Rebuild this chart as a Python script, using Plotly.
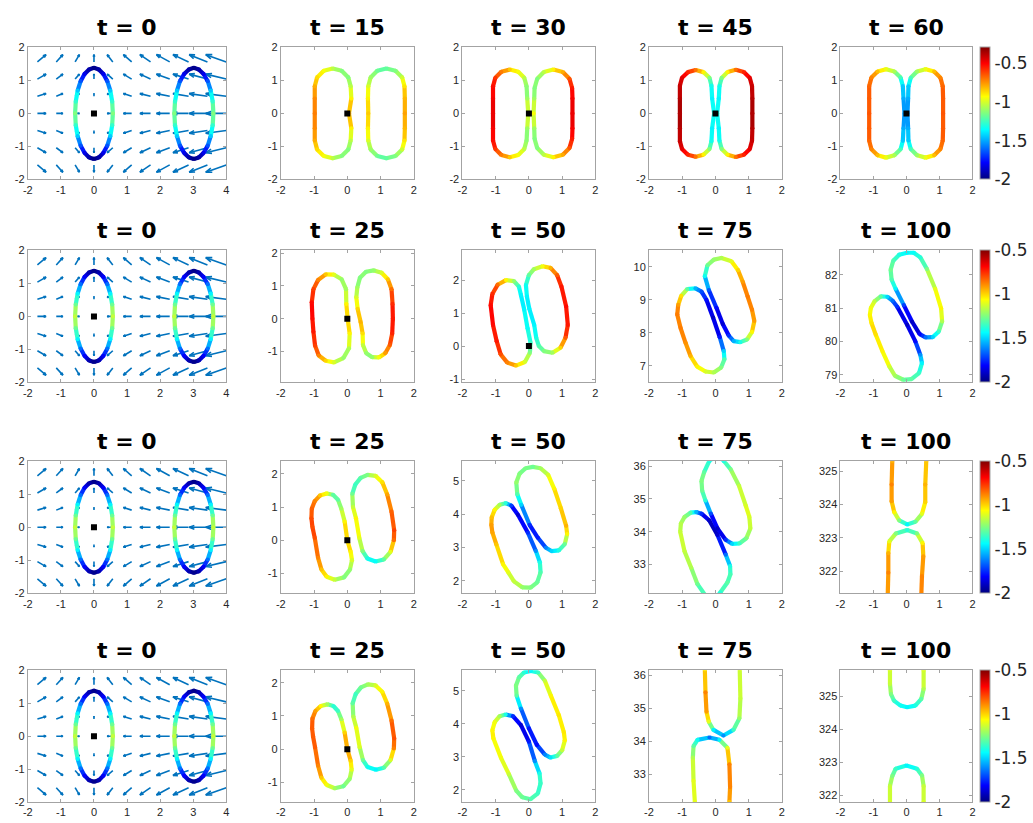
import numpy as np
import plotly.graph_objects as go
import plotly.figure_factory as ff
from plotly.colors import sample_colorscale

W, H = 1033, 823

# ---------------- data ----------------
TITLES = [
    ["t = 0", "t = 15", "t = 30", "t = 45", "t = 60"],
    ["t = 0", "t = 25", "t = 50", "t = 75", "t = 100"],
    ["t = 0", "t = 25", "t = 50", "t = 75", "t = 100"],
    ["t = 0", "t = 25", "t = 50", "t = 75", "t = 100"],
]
CLIMS = [(-2.0, -0.3), (-2.0, -0.5), (-2.0, -0.5), (-2.0, -0.5)]
CBAR_TICKS = [-2, -1.5, -1, -0.5]
CBAR_TEXT = ["-2", "-1.5", "-1", "-0.5"]
X_RANGES = [(-2, 4), (-2, 2), (-2, 2), (-2, 2), (-2, 2)]
Y_RANGES = [
    [(-2, 2), (-2, 2), (-2, 2), (-2, 2), (-2, 2)],
    [(-2, 2), (-1.94, 2.08), (-1.1, 2.9), (6.5, 10.5), (78.77, 82.73)],
    [(-2, 2), (-1.6, 2.38), (1.62, 5.59), (32.12, 36.15), (321.33, 325.3)],
    [(-2, 2), (-1.6, 2.38), (1.63, 5.62), (32.15, 36.15), (321.8, 325.79)],
]

# quiver field (t = 0 panels)
QX = [-1.71, -1.14, -0.57, 0.0, 0.57, 1.14, 1.71, 2.29, 2.86, 3.43, 4.0]
QY = [-1.56, -1.04, -0.52, 0.0, 0.52, 1.04, 1.56]
QU = [0.26, 0.2, 0.13, 0.0, -0.17, -0.25, -0.32, -0.4, -0.47, -0.55, -0.62]
QV = [-0.22, -0.15, -0.08, 0.0, 0.08, 0.15, 0.22]

# squares at the origin
SQUARE_PANELS = [(0, 0), (0, 1), (0, 2), (0, 3), (0, 4), (1, 0), (1, 1), (1, 2),
                 (2, 0), (2, 1), (3, 0), (3, 1)]

# curves: (x, y, value)
ELLIPSE_L = [(0.57, 0.0, -1.15), (0.551, 0.357, -1.28), (0.494, 0.69, -1.45), (0.403, 0.976, -1.65),
             (0.285, 1.195, -1.82), (0.148, 1.333, -1.93), (0.0, 1.38, -1.98), (-0.148, 1.333, -1.93),
             (-0.285, 1.195, -1.82), (-0.403, 0.976, -1.65), (-0.494, 0.69, -1.45), (-0.551, 0.357, -1.28),
             (-0.57, 0.0, -1.15), (-0.551, -0.357, -1.28), (-0.494, -0.69, -1.45), (-0.403, -0.976, -1.65),
             (-0.285, -1.195, -1.82), (-0.148, -1.333, -1.93), (0.0, -1.38, -1.98), (0.148, -1.333, -1.93),
             (0.285, -1.195, -1.82), (0.403, -0.976, -1.65), (0.494, -0.69, -1.45), (0.551, -0.357, -1.28)]
ELLIPSE_R = [(3.61, 0.0, -1.15), (3.59, 0.357, -1.28), (3.53, 0.69, -1.45), (3.44, 0.976, -1.65),
             (3.315, 1.195, -1.82), (3.17, 1.333, -1.93), (3.02, 1.38, -1.98), (2.87, 1.333, -1.93),
             (2.725, 1.195, -1.82), (2.6, 0.976, -1.65), (2.51, 0.69, -1.45), (2.45, 0.357, -1.28),
             (2.43, 0.0, -1.15), (2.45, -0.357, -1.28), (2.51, -0.69, -1.45), (2.6, -0.976, -1.65),
             (2.725, -1.195, -1.82), (2.87, -1.333, -1.93), (3.02, -1.38, -1.98), (3.17, -1.333, -1.93),
             (3.315, -1.195, -1.82), (3.44, -0.976, -1.65), (3.53, -0.69, -1.45), (3.59, -0.357, -1.28)]

R1C2_A = [(-0.98, 0.0, -0.72), (-0.98, 0.45, -0.74), (-0.98, 0.82, -0.8), (-0.91, 1.09, -0.88), (-0.71, 1.29, -0.95),
          (-0.44, 1.36, -1.05), (-0.17, 1.29, -1.15), (0.03, 1.09, -1.15), (0.1, 0.82, -1.05), (0.12, 0.45, -0.92),
          (0.05, 0.0, -0.8), (0.12, -0.45, -0.92), (0.1, -0.82, -1.05), (0.03, -1.09, -1.15), (-0.17, -1.29, -1.15),
          (-0.44, -1.36, -1.05), (-0.71, -1.29, -0.95), (-0.91, -1.09, -0.88), (-0.98, -0.82, -0.8), (-0.98, -0.45, -0.74)]
R1C2_B = [(0.63, 0.0, -0.85), (0.62, 0.45, -0.92), (0.63, 0.82, -1.0), (0.70, 1.09, -1.1), (0.90, 1.29, -1.18),
          (1.175, 1.36, -1.2), (1.45, 1.29, -1.15), (1.65, 1.09, -1.02), (1.72, 0.82, -0.9), (1.73, 0.45, -0.82),
          (1.73, 0.0, -0.78), (1.73, -0.45, -0.82), (1.72, -0.82, -0.9), (1.65, -1.09, -1.02), (1.45, -1.29, -1.15),
          (1.175, -1.36, -1.2), (0.90, -1.29, -1.18), (0.70, -1.09, -1.1), (0.63, -0.82, -1.0), (0.62, -0.45, -0.92)]
R1C3_A = [(-1.08, 0.0, -0.48), (-1.08, 0.45, -0.5), (-1.08, 0.82, -0.53), (-1.01, 1.08, -0.6), (-0.83, 1.26, -0.72),
          (-0.575, 1.33, -0.85), (-0.32, 1.26, -0.95), (-0.14, 1.08, -1.05), (-0.07, 0.82, -1.13), (-0.05, 0.45, -1.1),
          (-0.02, 0.0, -0.92), (-0.05, -0.45, -1.1), (-0.07, -0.82, -1.13), (-0.14, -1.08, -1.05), (-0.32, -1.26, -0.95),
          (-0.575, -1.33, -0.85), (-0.83, -1.26, -0.72), (-1.01, -1.08, -0.6), (-1.08, -0.82, -0.53), (-1.08, -0.45, -0.5)]
R1C3_B = [(0.14, 0.0, -0.95), (0.16, 0.45, -1.1), (0.17, 0.77, -1.15), (0.25, 1.05, -1.15), (0.45, 1.255, -1.05),
          (0.735, 1.33, -0.92), (1.02, 1.255, -0.8), (1.22, 1.05, -0.65), (1.3, 0.77, -0.55), (1.31, 0.45, -0.5),
          (1.31, 0.0, -0.48), (1.31, -0.45, -0.5), (1.3, -0.77, -0.55), (1.22, -1.05, -0.65), (1.02, -1.255, -0.8),
          (0.735, -1.33, -0.92), (0.45, -1.255, -1.05), (0.25, -1.05, -1.15), (0.17, -0.77, -1.15), (0.16, -0.45, -1.1)]
R1C4_A = [(-1.07, 0.0, -0.38), (-1.07, 0.45, -0.39), (-1.07, 0.84, -0.42), (-1.006, 1.08, -0.47), (-0.83, 1.25, -0.57),
          (-0.595, 1.315, -0.7), (-0.36, 1.25, -0.92), (-0.18, 1.08, -1.15), (-0.12, 0.84, -1.33), (-0.1, 0.45, -1.38),
          (-0.04, 0.0, -1.3), (-0.1, -0.45, -1.38), (-0.12, -0.84, -1.33), (-0.18, -1.08, -1.15), (-0.36, -1.25, -0.92),
          (-0.595, -1.315, -0.7), (-0.83, -1.25, -0.57), (-1.006, -1.08, -0.47), (-1.07, -0.84, -0.42), (-1.07, -0.45, -0.39)]
R1C4_B = [(0.05, 0.0, -1.3), (0.1, 0.45, -1.38), (0.12, 0.83, -1.33), (0.186, 1.075, -1.15), (0.365, 1.254, -0.92),
          (0.61, 1.32, -0.7), (0.855, 1.254, -0.57), (1.034, 1.075, -0.47), (1.1, 0.83, -0.42), (1.11, 0.45, -0.39),
          (1.11, 0.0, -0.38), (1.11, -0.45, -0.39), (1.1, -0.83, -0.42), (1.034, -1.075, -0.47), (0.855, -1.254, -0.57),
          (0.61, -1.32, -0.7), (0.365, -1.254, -0.92), (0.186, -1.075, -1.15), (0.12, -0.83, -1.33), (0.1, -0.45, -1.38)]
R1C5_A = [(-1.13, 0.0, -0.65), (-1.13, 0.45, -0.66), (-1.13, 0.83, -0.68), (-1.062, 1.085, -0.73), (-0.875, 1.27, -0.83),
          (-0.62, 1.34, -0.97), (-0.365, 1.27, -1.08), (-0.178, 1.085, -1.25), (-0.11, 0.83, -1.45), (-0.09, 0.45, -1.5),
          (-0.06, 0.0, -1.53), (-0.09, -0.45, -1.5), (-0.11, -0.83, -1.45), (-0.178, -1.085, -1.25), (-0.365, -1.27, -1.08),
          (-0.62, -1.34, -0.97), (-0.875, -1.27, -0.83), (-1.062, -1.085, -0.73), (-1.13, -0.83, -0.68), (-1.13, -0.45, -0.66)]
R1C5_B = [(0.03, 0.0, -1.53), (0.05, 0.45, -1.5), (0.06, 0.82, -1.45), (0.13, 1.08, -1.25), (0.32, 1.27, -1.1),
          (0.58, 1.34, -0.97), (0.84, 1.27, -0.83), (1.03, 1.08, -0.73), (1.1, 0.82, -0.68), (1.11, 0.45, -0.66),
          (1.11, 0.0, -0.65), (1.11, -0.45, -0.66), (1.1, -0.82, -0.68), (1.03, -1.08, -0.73), (0.84, -1.27, -0.83),
          (0.58, -1.34, -0.97), (0.32, -1.27, -1.1), (0.13, -1.08, -1.25), (0.06, -0.82, -1.45), (0.05, -0.45, -1.5)]

R2C2_A = [(-1.05, 0.0, -0.7), (-1.07, 0.5, -0.7), (-1.02, 0.9, -0.78), (-0.88, 1.18, -0.88), (-0.65, 1.35, -0.98),
          (-0.4, 1.34, -1.1), (-0.17, 1.2, -1.22), (-0.04, 0.9, -1.2), (-0.03, 0.45, -1.05), (0.01, 0.0, -0.95),
          (0.07, -0.45, -1.05), (0.05, -0.9, -1.18), (-0.12, -1.2, -1.22), (-0.4, -1.33, -1.12), (-0.65, -1.28, -1.0),
          (-0.86, -1.12, -0.88), (-0.97, -0.82, -0.78), (-1.02, -0.4, -0.72)]
R2C2_B = [(0.3, 0.95, -1.2), (0.38, 1.25, -1.25), (0.56, 1.43, -1.25), (0.8, 1.47, -1.22), (1.03, 1.4, -1.12),
          (1.22, 1.2, -0.98), (1.33, 0.9, -0.85), (1.36, 0.45, -0.75), (1.37, 0.0, -0.72), (1.35, -0.45, -0.74),
          (1.28, -0.8, -0.82), (1.14, -1.05, -0.92), (0.95, -1.18, -1.08), (0.75, -1.17, -1.22), (0.57, -1.05, -1.22),
          (0.47, -0.8, -1.15), (0.46, -0.45, -1.02), (0.4, -0.1, -0.95), (0.31, 0.3, -1.0), (0.27, 0.65, -1.12)]
R2C3_A = [(-1.08, 0.64, -0.7), (-1.15, 1.24, -0.7), (-1.1, 1.58, -0.75), (-0.94, 1.86, -0.85), (-0.69, 2.0, -1.05),
          (-0.45, 1.97, -1.22), (-0.3, 1.8, -1.38), (-0.24, 1.55, -1.45), (-0.14, 1.1, -1.45), (-0.04, 0.54, -1.43),
          (0.05, 0.1, -1.35), (0.03, -0.2, -1.25), (-0.12, -0.48, -1.12), (-0.39, -0.59, -0.98), (-0.65, -0.5, -0.88),
          (-0.85, -0.25, -0.8), (-0.97, 0.15, -0.72)]
R2C3_B = [(0.41, 2.42, -1.08), (0.15, 2.33, -1.2), (0.0, 2.15, -1.3), (-0.09, 1.85, -1.42), (-0.06, 1.5, -1.45),
          (0.01, 1.14, -1.45), (0.16, 0.64, -1.45), (0.22, 0.25, -1.4), (0.3, 0.0, -1.32), (0.45, -0.15, -1.25),
          (0.71, -0.2, -1.2), (0.95, -0.05, -1.0), (1.1, 0.25, -0.82), (1.17, 0.64, -0.72), (1.12, 1.2, -0.7),
          (0.98, 1.8, -0.72), (0.85, 2.15, -0.82), (0.65, 2.37, -0.95)]
R2C4_A = [(-1.15, 8.56, -0.87), (-1.12, 8.85, -0.92), (-1.03, 9.12, -1.02), (-0.85, 9.33, -1.3), (-0.6, 9.35, -1.55),
          (-0.42, 9.25, -1.7), (-0.27, 9.0, -1.8), (-0.07, 8.46, -1.9), (0.13, 7.87, -1.78), (0.25, 7.45, -1.5),
          (0.27, 7.2, -1.32), (0.17, 6.95, -1.25), (-0.05, 6.8, -1.18), (-0.3, 6.83, -1.12), (-0.55, 6.98, -1.05),
          (-0.75, 7.3, -0.95), (-0.9, 7.7, -0.9), (-1.05, 8.15, -0.87)]
R2C4_B = [(0.18, 10.27, -1.18), (-0.05, 10.22, -1.22), (-0.24, 10.05, -1.28), (-0.32, 9.72, -1.42), (-0.2, 9.3, -1.68),
          (0.03, 8.76, -1.8), (0.22, 8.27, -1.88), (0.4, 7.92, -1.75), (0.55, 7.75, -1.55), (0.75, 7.72, -1.4),
          (0.95, 7.8, -1.25), (1.1, 8.03, -1.05), (1.17, 8.36, -0.92), (1.1, 8.7, -0.88), (0.97, 9.1, -0.87),
          (0.82, 9.55, -0.92), (0.68, 9.9, -1.0), (0.48, 10.17, -1.1)]
R2C5_A = [(-1.11, 80.79, -1.05), (-1.08, 81.0, -1.08), (-0.97, 81.2, -1.15), (-0.78, 81.35, -1.3), (-0.58, 81.34, -1.5),
          (-0.42, 81.22, -1.65), (-0.28, 81.04, -1.75), (0.02, 80.5, -1.9), (0.27, 80.0, -1.8), (0.42, 79.6, -1.6),
          (0.47, 79.35, -1.45), (0.38, 79.05, -1.35), (0.15, 78.87, -1.3), (-0.1, 78.85, -1.28), (-0.35, 78.97, -1.2),
          (-0.52, 79.25, -1.12), (-0.73, 79.71, -1.05), (-0.93, 80.2, -1.02), (-1.06, 80.55, -1.03)]
R2C5_B = [(0.02, 82.66, -1.45), (-0.22, 82.6, -1.4), (-0.4, 82.42, -1.32), (-0.48, 82.15, -1.27), (-0.45, 81.85, -1.32),
          (-0.33, 81.58, -1.45), (-0.08, 81.09, -1.72), (0.17, 80.59, -1.9), (0.4, 80.22, -1.82), (0.58, 80.12, -1.65),
          (0.8, 80.13, -1.5), (0.98, 80.3, -1.35), (1.08, 80.6, -1.18), (1.05, 80.99, -1.05), (0.87, 81.58, -1.1),
          (0.62, 82.17, -1.25), (0.42, 82.52, -1.38), (0.22, 82.66, -1.43)]

R3C2_A = [(-1.08, 0.66, -0.8), (-1.07, 0.95, -0.83), (-0.98, 1.18, -0.88), (-0.82, 1.35, -0.98), (-0.62, 1.41, -1.08),
          (-0.43, 1.37, -1.3), (-0.28, 1.22, -1.3), (-0.18, 0.95, -1.2), (-0.08, 0.56, -1.05), (0.0, 0.0, -0.98),
          (0.1, -0.35, -1.05), (0.14, -0.6, -1.12), (0.08, -0.88, -1.22), (-0.1, -1.12, -1.25), (-0.38, -1.19, -1.15),
          (-0.62, -1.1, -1.05), (-0.78, -0.88, -0.97), (-0.88, -0.53, -0.88), (-0.98, 0.07, -0.8), (-1.05, 0.4, -0.8)]
R3C2_B = [(0.61, 1.97, -1.25), (0.4, 1.88, -1.3), (0.24, 1.68, -1.35), (0.15, 1.4, -1.28), (0.17, 1.0, -1.15),
          (0.26, 0.66, -1.05), (0.36, 0.07, -1.1), (0.46, -0.33, -1.25), (0.6, -0.55, -1.4), (0.85, -0.64, -1.43),
          (1.1, -0.58, -1.3), (1.3, -0.35, -1.1), (1.4, 0.0, -0.85), (1.41, 0.3, -0.78), (1.33, 0.86, -0.83),
          (1.2, 1.38, -0.93), (1.05, 1.75, -1.02), (0.85, 1.94, -1.12)]
R3C3_A = [(-1.13, 3.68, -0.92), (-1.12, 3.9, -0.97), (-1.03, 4.13, -1.05), (-0.88, 4.28, -1.2), (-0.7, 4.33, -1.38),
          (-0.53, 4.26, -1.72), (-0.33, 3.98, -1.88), (-0.03, 3.44, -1.75), (0.21, 2.89, -1.6), (0.33, 2.55, -1.4),
          (0.35, 2.25, -1.32), (0.25, 1.95, -1.28), (0.05, 1.79, -1.25), (-0.2, 1.8, -1.22), (-0.45, 1.98, -1.15),
          (-0.62, 2.25, -1.1), (-0.78, 2.5, -1.05), (-0.98, 3.09, -0.98), (-1.1, 3.45, -0.93)]
R3C3_B = [(0.12, 5.42, -1.28), (-0.1, 5.38, -1.26), (-0.28, 5.22, -1.25), (-0.38, 4.95, -1.22), (-0.35, 4.6, -1.32),
          (-0.23, 4.28, -1.5), (0.02, 3.68, -1.75), (0.27, 3.29, -1.78), (0.51, 2.99, -1.62), (0.68, 2.89, -1.5),
          (0.9, 2.91, -1.4), (1.08, 3.1, -1.28), (1.15, 3.4, -1.05), (1.12, 3.65, -0.95), (0.96, 4.18, -1.0),
          (0.76, 4.77, -1.05), (0.58, 5.18, -1.12), (0.35, 5.38, -1.2)]
R3C4_A = [(-1.06, 34.0, -1.15), (-1.04, 34.25, -1.17), (-0.93, 34.45, -1.22), (-0.75, 34.58, -1.32), (-0.58, 34.6, -1.55),
          (-0.42, 34.55, -1.75), (-0.19, 34.35, -1.9), (0.06, 33.9, -1.88), (0.31, 33.3, -1.65), (0.44, 32.95, -1.4),
          (0.45, 32.7, -1.33), (0.36, 32.45, -1.3), (0.15, 32.15, -1.38), (-0.05, 31.9, -1.42), (-0.3, 32.05, -1.4),
          (-0.54, 32.4, -1.28), (-0.73, 32.9, -1.18), (-0.93, 33.4, -1.15)]
R3C4_B = [(0.05, 36.35, -1.42), (-0.19, 36.15, -1.4), (-0.34, 35.82, -1.3), (-0.42, 35.55, -1.25), (-0.4, 35.25, -1.28),
          (-0.3, 34.95, -1.38), (-0.14, 34.55, -1.7), (0.06, 34.1, -1.9), (0.31, 33.75, -1.75), (0.5, 33.63, -1.5),
          (0.72, 33.64, -1.35), (0.93, 33.8, -1.25), (1.05, 34.1, -1.15), (1.02, 34.45, -1.12), (0.91, 34.8, -1.12),
          (0.71, 35.4, -1.15), (0.46, 35.9, -1.25), (0.26, 36.15, -1.4)]
R3C5_A = [(-0.42, 325.6, -0.95), (-0.43, 325.3, -0.95), (-0.45, 324.6, -0.88), (-0.45, 324.1, -0.92), (-0.37, 323.77, -1.05),
          (-0.22, 323.52, -1.25), (0.02, 323.4, -1.45), (0.27, 323.48, -1.3), (0.47, 323.72, -1.1), (0.57, 324.07, -1.0),
          (0.57, 324.6, -0.95), (0.6, 325.3, -0.98), (0.6, 325.6, -0.98)]
R3C5_B = [(-0.57, 321.0, -0.95), (-0.57, 321.2, -0.95), (-0.55, 321.95, -0.88), (-0.55, 322.54, -0.95), (-0.52, 322.89, -1.1),
          (-0.32, 323.13, -1.25), (0.02, 323.23, -1.38), (0.32, 323.13, -1.25), (0.49, 322.84, -1.05), (0.51, 322.44, -0.92),
          (0.47, 321.85, -0.88), (0.45, 321.27, -0.9), (0.45, 321.0, -0.9)]

R4C2_A = [(-1.06, 0.62, -0.82), (-1.05, 0.92, -0.85), (-0.96, 1.15, -0.92), (-0.8, 1.3, -1.05), (-0.6, 1.35, -1.2),
          (-0.42, 1.3, -1.38), (-0.28, 1.15, -1.35), (-0.18, 0.9, -1.2), (-0.08, 0.5, -1.0), (0.0, 0.0, -0.92),
          (0.1, -0.35, -1.0), (0.13, -0.62, -1.1), (0.07, -0.9, -1.22), (-0.12, -1.12, -1.28), (-0.38, -1.18, -1.2),
          (-0.62, -1.08, -1.08), (-0.78, -0.86, -0.98), (-0.88, -0.5, -0.88), (-0.97, 0.05, -0.82), (-1.03, 0.38, -0.82)]
R4C2_B = [(0.62, 1.95, -1.2), (0.41, 1.86, -1.27), (0.25, 1.66, -1.35), (0.16, 1.38, -1.3), (0.18, 0.98, -1.18),
          (0.27, 0.64, -1.08), (0.37, 0.06, -1.12), (0.47, -0.33, -1.28), (0.61, -0.54, -1.42), (0.86, -0.62, -1.45),
          (1.1, -0.56, -1.32), (1.3, -0.33, -1.12), (1.4, 0.02, -0.88), (1.41, 0.32, -0.8), (1.33, 0.86, -0.85),
          (1.2, 1.37, -0.95), (1.05, 1.73, -1.05), (0.85, 1.92, -1.12)]
R4C3_A = [(-1.07, 3.56, -1.05), (-1.1, 3.8, -1.05), (-1.03, 4.05, -1.08), (-0.88, 4.23, -1.2), (-0.7, 4.28, -1.4),
          (-0.48, 4.23, -1.75), (-0.24, 3.96, -1.88), (0.0, 3.46, -1.78), (0.18, 2.87, -1.6), (0.32, 2.5, -1.4),
          (0.35, 2.2, -1.35), (0.27, 1.9, -1.35), (0.05, 1.72, -1.32), (-0.2, 1.78, -1.28), (-0.38, 1.98, -1.25),
          (-0.6, 2.47, -1.15), (-0.84, 2.97, -1.08)]
R4C3_B = [(0.06, 5.6, -1.45), (-0.15, 5.55, -1.38), (-0.3, 5.4, -1.3), (-0.39, 5.15, -1.25), (-0.37, 4.85, -1.3),
          (-0.24, 4.46, -1.6), (0.0, 3.86, -1.78), (0.24, 3.36, -1.8), (0.48, 3.07, -1.62), (0.65, 2.98, -1.48),
          (0.85, 3.03, -1.3), (1.0, 3.2, -1.15), (1.08, 3.5, -1.05), (1.05, 3.75, -1.03), (0.9, 4.26, -1.03),
          (0.66, 4.85, -1.05), (0.48, 5.3, -1.15), (0.28, 5.55, -1.35)]
R4C4_A = [(-0.32, 36.4, -1.05), (-0.32, 36.18, -1.05), (-0.3, 35.48, -0.88), (-0.27, 34.89, -0.92), (-0.2, 34.59, -1.1),
          (-0.06, 34.34, -1.45), (0.24, 34.17, -1.6), (0.54, 34.34, -1.35), (0.72, 34.69, -1.22), (0.75, 35.29, -1.15),
          (0.73, 36.18, -1.12), (0.73, 36.4, -1.12)]
R4C4_B = [(-0.62, 32.0, -1.1), (-0.62, 32.16, -1.1), (-0.66, 32.8, -1.1), (-0.68, 33.5, -1.18), (-0.66, 33.85, -1.3),
          (-0.54, 34.04, -1.42), (-0.18, 34.11, -1.65), (0.12, 34.04, -1.45), (0.36, 33.8, -1.1), (0.42, 33.3, -0.88),
          (0.44, 32.61, -0.88), (0.42, 32.16, -0.98), (0.42, 32.0, -0.98)]
R4C5_A = [(-0.5, 326.0, -1.12), (-0.5, 325.79, -1.12), (-0.5, 325.37, -1.15), (-0.47, 325.07, -1.25), (-0.38, 324.87, -1.35),
          (-0.18, 324.72, -1.42), (0.02, 324.67, -1.45), (0.27, 324.72, -1.4), (0.45, 324.92, -1.3), (0.52, 325.22, -1.18),
          (0.52, 325.79, -1.12), (0.52, 326.0, -1.12)]
R4C5_B = [(-0.5, 321.6, -1.12), (-0.5, 321.8, -1.12), (-0.5, 322.29, -1.15), (-0.43, 322.59, -1.25), (-0.33, 322.81, -1.35),
          (0.0, 322.91, -1.45), (0.32, 322.81, -1.38), (0.47, 322.61, -1.25), (0.52, 322.29, -1.15), (0.52, 321.8, -1.12),
          (0.52, 321.6, -1.12)]

PANEL_CURVES = {
    (0, 0): [(ELLIPSE_L, True), (ELLIPSE_R, True)],
    (0, 1): [(R1C2_A, True), (R1C2_B, True)],
    (0, 2): [(R1C3_A, True), (R1C3_B, True)],
    (0, 3): [(R1C4_A, True), (R1C4_B, True)],
    (0, 4): [(R1C5_A, True), (R1C5_B, True)],
    (1, 0): [(ELLIPSE_L, True), (ELLIPSE_R, True)],
    (1, 1): [(R2C2_A, True), (R2C2_B, True)],
    (1, 2): [(R2C3_A, True), (R2C3_B, True)],
    (1, 3): [(R2C4_A, True), (R2C4_B, True)],
    (1, 4): [(R2C5_A, True), (R2C5_B, True)],
    (2, 0): [(ELLIPSE_L, True), (ELLIPSE_R, True)],
    (2, 1): [(R3C2_A, True), (R3C2_B, True)],
    (2, 2): [(R3C3_A, True), (R3C3_B, True)],
    (2, 3): [(R3C4_A, True), (R3C4_B, True)],
    (2, 4): [(R3C5_A, False), (R3C5_B, False)],
    (3, 0): [(ELLIPSE_L, True), (ELLIPSE_R, True)],
    (3, 1): [(R4C2_A, True), (R4C2_B, True)],
    (3, 2): [(R4C3_A, True), (R4C3_B, True)],
    (3, 3): [(R4C4_A, False), (R4C4_B, False)],
    (3, 4): [(R4C5_A, False), (R4C5_B, False)],
}

# ---------------- layout / style ----------------
COL_PX = [(23, 223), (278, 412), (461, 595), (649, 783), (842, 975)]
ROW_PX = [(42, 176), (248, 382), (462, 596), (674, 808)]
CBAR_X0 = 983
LW = 4.2
NB = 48
FONT = "Liberation Sans, Arial, Helvetica, sans-serif"
WIDE_FONT = "DejaVu Sans, Verdana, sans-serif"
JET = [[0.0, "rgb(0,0,128)"], [0.125, "rgb(0,0,255)"], [0.375, "rgb(0,255,255)"],
       [0.625, "rgb(255,255,0)"], [0.875, "rgb(255,0,0)"], [1.0, "rgb(128,0,0)"]]
AXC = "#a3a3a3"
AX = dict(showgrid=False, zeroline=False, showline=True, mirror="ticks", linecolor=AXC, linewidth=1,
          ticks="inside", ticklen=3, tickwidth=1, tickcolor=AXC, fixedrange=True,
          tickfont=dict(family=FONT, size=11, color="#262626"))


def jet(frac):
    return sample_colorscale(JET, [min(max(frac, 0.0), 1.0)])[0]


fig = go.Figure()
layout = dict(width=W, height=H, margin=dict(l=0, r=0, t=0, b=0), showlegend=False,
              plot_bgcolor="white", paper_bgcolor="white", annotations=[])

qx, qy = np.meshgrid(QX, QY)
qu = np.tile(np.array(QU), (len(QY), 1))
qv = np.tile(np.array(QV)[:, None], (1, len(QX)))
quiver = ff.create_quiver(qx.ravel(), qy.ravel(), qu.ravel(), qv.ravel(),
                          scale=1.0, arrow_scale=0.3, angle=np.pi / 9).data[0]

for r in range(4):
    cmin, cmax = CLIMS[r]
    ca = "coloraxis" if r == 0 else "coloraxis%d" % (r + 1)
    y0, y1 = ROW_PX[r]
    for c in range(5):
        k = r * 5 + c + 1
        s = "" if k == 1 else str(k)
        x0, x1 = COL_PX[c]
        xr = X_RANGES[c]
        yr = Y_RANGES[r][c]
        xt = list(range(int(np.ceil(xr[0] - 1e-9)), int(np.floor(xr[1] + 1e-9)) + 1))
        yt = list(range(int(np.ceil(yr[0] - 1e-9)), int(np.floor(yr[1] + 1e-9)) + 1))
        layout["xaxis" + s] = dict(AX, domain=[x0 / W, x1 / W], range=list(xr), anchor="y" + s,
                                   tickvals=xt, ticktext=[str(t) for t in xt])
        layout["yaxis" + s] = dict(AX, domain=[1 - y1 / H, 1 - y0 / H], range=list(yr), anchor="x" + s,
                                   tickvals=yt, ticktext=[str(t) for t in yt])
        layout["annotations"].append(dict(
            text="<b>%s</b>" % TITLES[r][c], xref="paper", yref="paper",
            x=(x0 + x1) / 2 / W, y=1 - (y0 - 20) / H, xanchor="center", yanchor="middle",
            showarrow=False, font=dict(family=WIDE_FONT, size=22, color="black")))

        if c == 0:
            q = go.Scatter(quiver)
            q.update(xaxis="x" + s, yaxis="y" + s, mode="lines", hoverinfo="skip",
                     line=dict(color="#0072BD", width=1.6), showlegend=False)
            fig.add_trace(q)

        bins = {}
        mx, my, mv = [], [], []
        for pts, closed in PANEL_CURVES[(r, c)]:
            n = len(pts)
            m = n if closed else n - 1
            for i in range(m):
                a = pts[i]
                b = pts[(i + 1) % n]
                frac = ((a[2] + b[2]) / 2 - cmin) / (cmax - cmin)
                key = int(round(min(max(frac, 0.0), 1.0) * (NB - 1)))
                bx, by = bins.setdefault(key, ([], []))
                bx += [a[0], b[0], None]
                by += [a[1], b[1], None]
            mx += [p[0] for p in pts]
            my += [p[1] for p in pts]
            mv += [p[2] for p in pts]
        for key in sorted(bins):
            bx, by = bins[key]
            fig.add_trace(go.Scatter(x=bx, y=by, mode="lines", xaxis="x" + s, yaxis="y" + s,
                                     line=dict(color=jet(key / (NB - 1)), width=LW),
                                     hoverinfo="skip", showlegend=False))
        fig.add_trace(go.Scatter(x=mx, y=my, mode="markers", xaxis="x" + s, yaxis="y" + s,
                                 marker=dict(size=LW, color=mv, coloraxis=ca, line=dict(width=0)),
                                 hoverinfo="skip", showlegend=False))
        if (r, c) in SQUARE_PANELS:
            fig.add_trace(go.Scatter(x=[0], y=[0], mode="markers", xaxis="x" + s, yaxis="y" + s,
                                     marker=dict(symbol="square", size=6, color="black"),
                                     hoverinfo="skip", showlegend=False))

    layout[ca] = dict(cmin=cmin, cmax=cmax, colorscale=JET, colorbar=dict(
        x=CBAR_X0 / W, xanchor="left", xpad=0, y=1 - (y0 + y1) / 2 / H, yanchor="middle",
        len=(y1 - y0) / H, lenmode="fraction", ypad=0, thickness=10, thicknessmode="pixels",
        outlinewidth=1, outlinecolor=AXC, ticks="", tickvals=CBAR_TICKS, ticktext=CBAR_TEXT,
        tickfont=dict(family=WIDE_FONT, size=17, color="#262626")))

fig.update_layout(layout)
fig.write_html("out.html", include_plotlyjs=True, full_html=True,
               config={"displayModeBar": False, "staticPlot": True},
               post_script="document.body.style.margin='0px';document.body.style.overflow='hidden';")
